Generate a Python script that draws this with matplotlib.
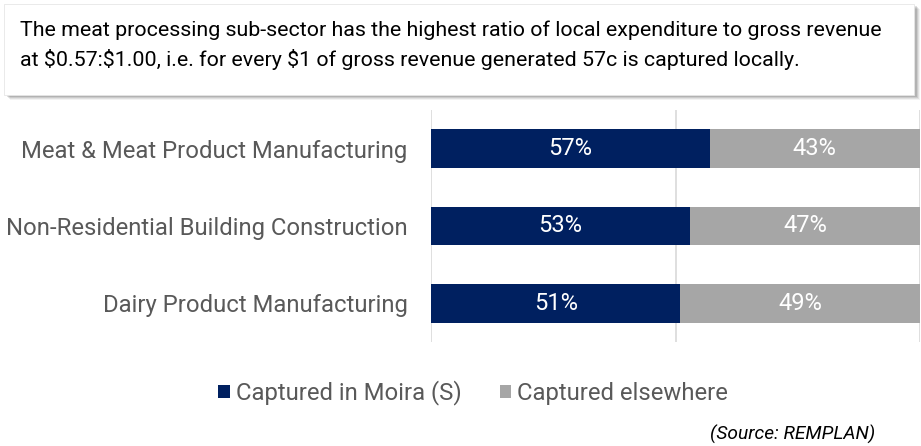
import matplotlib
matplotlib.use("Agg")
import matplotlib.pyplot as plt
from matplotlib.patches import Rectangle

plt.rcParams['font.family'] = ['Roboto', 'DejaVu Sans']

categories = ['Meat & Meat Product Manufacturing',
              'Non-Residential Building Construction',
              'Dairy Product Manufacturing']
captured_local = [57, 53, 51]
captured_elsewhere = [43, 47, 49]
series_names = ['Captured in Moira (S)', 'Captured elsewhere']
headline = ("The meat processing sub-sector has the highest ratio of local expenditure to gross revenue\n"
            "at $0.57:$1.00, i.e. for every $1 of gross revenue generated 57c is captured locally.")
source_note = "(Source: REMPLAN)"

NAVY = '#002060'
GREY = '#A6A6A6'
TEXT = '#595959'

W, H = 921, 446
fig = plt.figure(figsize=(W / 100, H / 100), dpi=100)

# headline box with a soft shadow
for i, a in enumerate([0.05, 0.07, 0.09, 0.12]):
    off = 4 - i
    fig.patches.append(Rectangle(((6 + off) / W, 1 - (96 + off) / H), 910 / W, 91 / H,
                                 transform=fig.transFigure, facecolor='black',
                                 alpha=a, edgecolor='none', zorder=0))
fig.patches.append(Rectangle((4 / W, 1 - 95 / H), 910 / W, 91 / H,
                             transform=fig.transFigure, facecolor='white',
                             edgecolor='#e6e6e6', linewidth=0.6, zorder=1))
fig.text(20 / W, 1 - 45 / H, headline, fontsize=15.4, color='black',
         va='center', ha='left', linespacing=1.5, zorder=2)

ax = fig.add_axes([431 / W, 1 - 342 / H, 489 / W, 232 / H])
y = list(range(len(categories)))
ax.barh(y, captured_local, height=0.5, color=NAVY, label=series_names[0], zorder=2)
ax.barh(y, captured_elsewhere, left=captured_local, height=0.5, color=GREY,
        label=series_names[1], zorder=2)

for yi, a, b in zip(y, captured_local, captured_elsewhere):
    ax.text(a / 2, yi, f"{a}%", color='white', ha='center', va='center',
            fontsize=17, zorder=3)
    ax.text(a + b / 2, yi, f"{b}%", color='white', ha='center', va='center',
            fontsize=17, zorder=3)

ax.set_xlim(0, 100)
ax.set_ylim(len(categories) - 0.5, -0.5)
ax.set_xticks([0, 50, 100])
ax.xaxis.grid(True, color='#d9d9d9', linewidth=1.2, zorder=0)
ax.tick_params(axis='x', length=0, labelbottom=False)
ax.tick_params(axis='y', length=0, pad=17, labelsize=17.2, labelcolor=TEXT)
ax.set_yticks(y)
ax.set_yticklabels(categories)
for s in ax.spines.values():
    s.set_visible(False)

leg = fig.legend(loc='center', bbox_to_anchor=(473 / W, 1 - 393 / H), ncol=2,
                 frameon=False, fontsize=17.2, handlelength=0.5, handleheight=0.5,
                 handletextpad=0.25, columnspacing=1.6)
for t in leg.get_texts():
    t.set_color(TEXT)

fig.text(875 / W, 1 - 434 / H, source_note, fontsize=13.8, style='italic',
         color='black', ha='right', va='center')

fig.savefig('out.png', dpi=100)
